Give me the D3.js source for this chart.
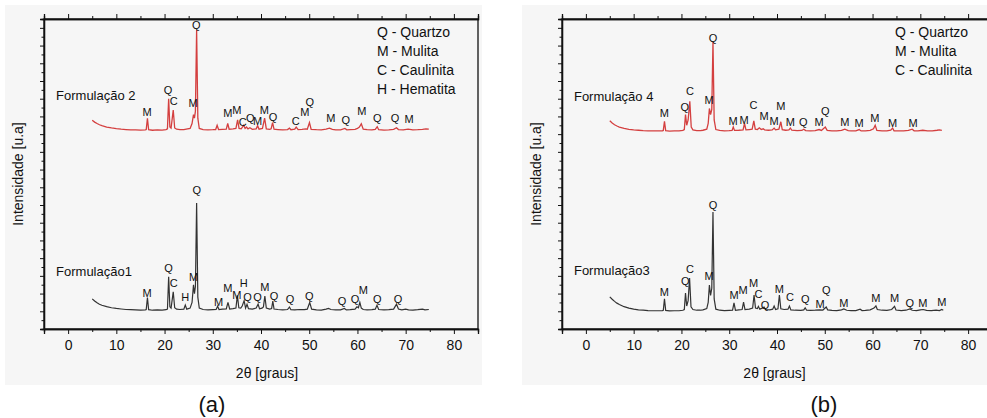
<!DOCTYPE html>
<html>
<head>
<meta charset="utf-8">
<script src="https://d3js.org/d3.v7.min.js"></script>
<style>
  body { margin: 0; background: #fff; }
  svg { display: block; font-family: Arial, "Liberation Sans", sans-serif; }
</style>
</head>
<body>
<svg id="chart" width="987" height="418"></svg>
<script>
// ---- data ----
// 2theta ticks
const xMajorTicks = [0, 10, 20, 30, 40, 50, 60, 70, 80];
const xMinorTicks = [-5, 5, 15, 25, 35, 45, 55, 65, 75, 85];

// Formulacao 1 (panel a, black)
const f1Angle = [5, 5.5, 6, 6.5, 7, 8, 9, 10, 11, 12, 13, 14, 15, 16, 16.2, 16.45, 16.7, 17.5, 18.5, 19.5,
  20.3, 20.6, 20.85, 21.1, 21.35, 21.8, 22.1, 22.5, 23.2, 24, 24.3, 24.6, 25.3, 25.7, 26, 26.2, 26.4, 26.65, 26.9, 27.2,
  28, 29, 30, 30.7, 31, 31.3, 32, 32.8, 33.15, 33.5, 34.2, 34.8, 35.1, 35.4, 35.8, 36.1, 36.5, 36.8, 37.1, 37.4,
  38.2, 39, 39.4, 39.7, 40.2, 40.5, 40.8, 41.1, 41.8, 42.2, 42.45, 42.7, 43.5, 44.5, 45.5, 45.9, 46.2, 47, 48, 49,
  49.6, 50.1, 50.5, 51.5, 52.5, 53.5, 54, 54.5, 55.5, 56.5, 57.3, 57.7, 58.5, 59.5, 59.9, 60.2, 60.5, 60.8, 61.2, 62,
  63, 63.7, 64.05, 64.4, 65.5, 66.5, 67.5, 68.1, 68.5, 69.2, 70, 70.6, 71.5, 72.5, 73.5, 74, 74.8];
const f1Int = [170, 158, 148, 140, 134, 126, 120, 116, 113, 110, 109, 108, 107, 108, 110, 178, 109, 106, 108, 107,
  109, 112, 295, 125, 118, 210, 120, 112, 110, 112, 135, 112, 118, 150, 250, 200, 240, 711, 180, 118,
  110, 108, 109, 110, 128, 110, 112, 113, 150, 113, 115, 118, 190, 120, 118, 130, 160, 118, 140, 115,
  112, 118, 140, 114, 118, 125, 186, 118, 112, 115, 158, 113, 110, 108, 110, 124, 109, 108, 110, 109,
  112, 150, 112, 108, 107, 112, 116, 110, 108, 108, 116, 108, 109, 112, 125, 120, 150, 118, 110, 108,
  109, 112, 134, 110, 108, 109, 112, 140, 113, 108, 112, 108, 107, 109, 112, 108, 110];

// Formulacao 2 (panel a, red)
const f2Angle = [5, 5.5, 6, 6.5, 7, 8, 9, 10, 11, 12, 13, 14, 15, 16, 16.2, 16.45, 16.7, 17.5, 18.5, 19.5,
  20.3, 20.6, 20.85, 21.1, 21.35, 21.8, 22.1, 22.5, 23.2, 24, 24.5, 25.3, 25.7, 26, 26.2, 26.4, 26.65, 26.9, 27.2,
  28, 29, 30, 30.6, 30.9, 31.2, 32, 32.8, 33.1, 33.4, 34.2, 34.8, 35.15, 35.45, 35.9, 36.4, 36.7, 37, 37.3, 37.7,
  38.2, 39, 39.3, 39.6, 40.3, 40.75, 41.1, 41.8, 42.1, 42.4, 42.7, 43.5, 44.5, 45.5, 45.9, 46.2, 47, 47.3, 47.7,
  48.5, 49.3, 49.6, 50.05, 50.4, 51.5, 52.5, 53.5, 54.2, 54.8, 55.5, 56.5, 57.4, 57.8, 58.5, 59.5, 60, 60.4, 60.8,
  61.2, 62, 63, 63.7, 64.1, 64.4, 65.5, 66.5, 67.5, 68.1, 68.5, 69.5, 70.5, 71.5, 72.5, 73.5, 74.2, 74.8];
const f2Int = [178, 168, 160, 153, 148, 140, 135, 131, 128, 126, 124, 124, 123, 124, 126, 190, 125, 122, 124, 123,
  126, 130, 300, 140, 134, 236, 135, 128, 126, 125, 128, 132, 160, 210, 190, 230, 688, 190, 132,
  126, 124, 125, 126, 150, 126, 127, 128, 160, 128, 130, 132, 180, 132, 130, 150, 132, 140, 130, 136,
  127, 130, 148, 128, 132, 190, 130, 127, 130, 165, 128, 126, 124, 126, 134, 125, 128, 140, 126,
  127, 130, 128, 165, 127, 125, 124, 128, 134, 127, 124, 124, 132, 124, 125, 127, 132, 140, 158,
  128, 125, 124, 127, 142, 125, 123, 124, 127, 136, 126, 124, 128, 124, 125, 127, 130, 128];

// Formulacao 3 (panel b, black)
const f3Angle = [5, 5.5, 6, 6.5, 7, 8, 9, 10, 11, 12, 13, 14, 15, 16, 16.2, 16.45, 16.7, 17.5, 18.5, 19.5,
  20.3, 20.6, 20.85, 21.1, 21.4, 21.7, 22, 22.4, 23.2, 24, 24.5, 25.3, 25.6, 25.85, 26.1, 26.35, 26.6, 26.85, 27.2,
  28, 29, 30, 30.7, 31, 31.3, 32, 32.7, 33, 33.3, 34.2, 34.9, 35.2, 35.5, 35.9, 36.1, 36.4, 36.9, 37.3, 37.6,
  38.5, 39.1, 39.4, 39.7, 40.2, 40.5, 40.8, 41.5, 42.3, 42.6, 42.9, 43.8, 45, 45.6, 45.9, 46.2, 47, 48, 49,
  49.6, 50.3, 50.6, 51.5, 52.5, 53.5, 54, 54.6, 55.5, 56.5, 57.4, 57.8, 58.5, 59.5, 60.3, 60.7, 61, 62,
  63, 64, 64.6, 64.9, 66, 67, 67.8, 68.3, 69.2, 70, 70.6, 71.3, 72.3, 73.3, 74, 74.5, 74.8];
const f3Int = [181, 168, 156, 146, 138, 126, 118, 112, 108, 106, 104, 103, 103, 104, 106, 170, 105, 102, 103, 103,
  106, 110, 203, 130, 160, 288, 125, 110, 106, 106, 108, 115, 150, 248, 190, 230, 660, 170, 112,
  106, 104, 105, 106, 147, 106, 108, 110, 152, 110, 112, 118, 192, 118, 115, 128, 112, 118, 124, 110,
  108, 112, 130, 110, 114, 192, 114, 110, 112, 130, 108, 106, 105, 108, 119, 106, 105, 106, 108,
  107, 124, 108, 105, 104, 108, 113, 106, 104, 104, 112, 104, 105, 108, 118, 130, 110, 106,
  105, 110, 128, 107, 104, 106, 113, 106, 104, 108, 110, 105, 104, 106, 104, 110, 106];

// Formulacao 4 (panel b, red)
const f4Angle = [5, 5.5, 6, 6.5, 7, 8, 9, 10, 11, 12, 13, 14, 15, 16, 16.2, 16.45, 16.7, 17.5, 18.5, 19.5,
  20.3, 20.6, 20.85, 21.1, 21.4, 21.75, 22.05, 22.4, 23.2, 24, 24.5, 25.3, 25.6, 25.85, 26.1, 26.35, 26.6, 26.85, 27.2,
  28, 29, 30, 30.6, 30.85, 31.1, 32, 32.9, 33.2, 33.5, 34.2, 34.8, 35.15, 35.45, 35.9, 36.3, 36.7, 37.1, 37.4,
  38.2, 39, 39.4, 39.7, 40.4, 40.8, 41.1, 41.8, 42.5, 42.8, 43.1, 44.2, 45.2, 45.6, 46, 47, 48, 48.8, 49.3,
  50.1, 50.5, 51.5, 52.5, 53.5, 54.2, 54.9, 55.5, 56.5, 57.2, 57.6, 58.5, 59.5, 60.2, 60.55, 60.9, 62,
  63, 63.8, 64.2, 64.5, 65.5, 66.5, 67.5, 68.3, 68.7, 69.5, 70.5, 71.5, 72.5, 73.5, 74, 74.5];
const f4Int = [175, 163, 153, 146, 140, 132, 127, 124, 122, 120, 119, 118, 118, 119, 121, 172, 120, 117, 118, 118,
  121, 126, 210, 150, 180, 285, 140, 124, 120, 120, 122, 128, 160, 245, 210, 240, 620, 180, 126,
  121, 119, 120, 121, 140, 121, 122, 124, 160, 124, 126, 128, 175, 128, 126, 136, 126, 130, 124,
  122, 124, 134, 124, 128, 170, 125, 122, 124, 134, 122, 120, 121, 128, 120, 119, 120, 126, 121,
  140, 121, 119, 118, 121, 128, 120, 118, 118, 126, 118, 119, 121, 130, 150, 121, 119,
  118, 122, 134, 119, 118, 119, 121, 128, 119, 118, 122, 118, 119, 122, 124, 121];

// phase labels: angle, intensity level of the letter centre, letter
const f1Labels = [[16.4, 203, "M"], [20.8, 344, "Q"], [21.9, 260, "C"], [24.3, 181, "H"], [26.0, 294, "M"],
  [26.7, 785, "Q"], [31.2, 152, "M"], [33.1, 231, "M"], [35.0, 192, "M"], [36.4, 260, "H"], [37.2, 181, "Q"],
  [39.3, 181, "Q"], [40.8, 237, "M"], [42.7, 186, "Q"], [46.0, 169, "Q"], [50.0, 186, "Q"], [56.8, 158, "Q"],
  [59.5, 169, "Q"], [61.2, 220, "M"], [64.1, 169, "Q"], [68.4, 169, "Q"]];
const f2Labels = [[16.4, 225, "M"], [20.7, 349, "Q"], [21.9, 287, "C"], [25.9, 276, "M"], [26.6, 716, "Q"],
  [33.1, 219, "M"], [35.0, 236, "M"], [36.2, 165, "C"], [37.8, 192, "Q"], [39.3, 174, "M"], [40.7, 236, "M"],
  [42.5, 197, "Q"], [47.2, 174, "C"], [49.1, 225, "M"], [50.1, 281, "Q"], [54.5, 191, "M"], [57.6, 180, "Q"],
  [60.9, 231, "M"], [64.1, 191, "Q"], [67.8, 191, "Q"], [70.7, 185, "M"]];
const f3Labels = [[16.4, 209, "M"], [20.8, 271, "Q"], [21.8, 339, "C"], [25.8, 299, "M"], [26.6, 700, "Q"],
  [31.0, 192, "M"], [32.9, 220, "M"], [35.1, 260, "M"], [36.1, 195, "C"], [37.5, 135, "Q"], [40.5, 226, "M"],
  [42.7, 181, "C"], [45.9, 169, "Q"], [49.0, 141, "M"], [50.3, 220, "Q"], [54.0, 147, "M"], [60.7, 175, "M"],
  [64.6, 175, "M"], [67.8, 147, "Q"], [70.5, 147, "M"], [74.5, 152, "M"]];
const f4Labels = [[16.4, 219, "M"], [20.7, 253, "Q"], [21.8, 343, "C"], [25.8, 293, "M"], [26.6, 643, "Q"],
  [30.8, 174, "M"], [33.1, 180, "M"], [35.1, 264, "C"], [37.3, 202, "M"], [39.4, 174, "M"], [40.8, 259, "M"],
  [42.8, 169, "M"], [45.5, 169, "Q"], [48.8, 169, "M"], [50.1, 231, "Q"], [54.2, 169, "M"], [57.2, 163, "M"],
  [60.5, 191, "M"], [64.2, 163, "M"], [68.5, 163, "M"]];

const legendA = ["Q - Quartzo", "M - Mulita", "C - Caulinita", "H - Hematita"];
const legendB = ["Q - Quartzo", "M - Mulita", "C - Caulinita"];

// ---- drawing ----
const svg = d3.select("#chart");
const plotTop = 19, plotBottom = 329;
const redOffset = 1000;   // vertical stacking of the upper pattern

function zip(a, b) { return a.map((v, i) => [v, b[i]]); }

function drawPanel(p) {
  const g = svg.append("g");

  g.append("rect")
    .attr("x", p.bg[0]).attr("y", 5)
    .attr("width", p.bg[1] - p.bg[0]).attr("height", 380)
    .attr("fill", "#f6f6f6");

  const x = d3.scaleLinear().domain([-5, 85]).range([p.left, p.right]);
  const y = d3.scaleLinear().domain([0, 1750]).range([plotBottom, plotTop]);

  // frame
  g.append("rect")
    .attr("x", p.left).attr("y", plotTop)
    .attr("width", p.right - p.left).attr("height", plotBottom - plotTop)
    .attr("fill", "none").attr("stroke", "#111").attr("stroke-width", 1.3);

  // bottom axis
  const bx = g.append("g").attr("transform", `translate(0,${plotBottom})`);
  bx.call(d3.axisBottom(x).tickValues(xMajorTicks).tickSize(5).tickPadding(6).tickFormat(d3.format("d")));
  bx.append("g").call(d3.axisBottom(x).tickValues(xMinorTicks).tickSize(3).tickFormat(""));
  // top axis
  const tx = g.append("g").attr("transform", `translate(0,${plotTop})`);
  tx.call(d3.axisTop(x).tickValues(xMajorTicks).tickSize(5).tickFormat(""));
  tx.append("g").call(d3.axisTop(x).tickValues(xMinorTicks).tickSize(3).tickFormat(""));
  // left axis
  const ly = g.append("g").attr("transform", `translate(${p.left},0)`);
  ly.call(d3.axisLeft(y).tickValues(d3.range(100, 1750, 100)).tickSize(4).tickFormat(""));
  ly.append("g").call(d3.axisLeft(y).tickValues(d3.range(50, 1750, 100)).tickSize(2.5).tickFormat(""));

  g.selectAll(".domain").attr("stroke", "#111").attr("stroke-width", 1.3);
  g.selectAll(".tick line").attr("stroke", "#111");
  bx.selectAll("text").attr("font-size", 14).attr("fill", "#111")
    .attr("font-family", "Arial, 'Liberation Sans', sans-serif");

  const line = d3.line().x(d => x(d[0]));

  // lower (black) pattern
  g.append("path")
    .datum(zip(p.lowAngle, p.lowInt))
    .attr("fill", "none").attr("stroke", "#333").attr("stroke-width", 1.2)
    .attr("d", line.y(d => y(d[1])));
  // upper (red) pattern, stacked
  g.append("path")
    .datum(zip(p.upAngle, p.upInt))
    .attr("fill", "none").attr("stroke", "#d43f3f").attr("stroke-width", 1.3)
    .attr("d", line.y(d => y(d[1] + redOffset)));

  const lbl = (arr, off) => g.append("g").selectAll("text").data(arr).join("text")
    .attr("x", d => x(d[0])).attr("y", d => y(d[1] + off))
    .attr("dy", "0.35em").attr("text-anchor", "middle")
    .attr("font-size", 11).attr("fill", "#111").text(d => d[2]);
  lbl(p.lowLabels, 0);
  lbl(p.upLabels, redOffset);

  // pattern names
  g.append("text").attr("x", x(p.nameAt)).attr("y", y(p.upName + redOffset))
    .attr("dy", "0.35em").attr("font-size", 13).attr("fill", "#111").text(p.upText);
  g.append("text").attr("x", x(p.nameAt)).attr("y", y(p.lowName))
    .attr("dy", "0.35em").attr("font-size", 13).attr("fill", "#111").text(p.lowText);

  // legend
  g.append("g").selectAll("text").data(p.legend).join("text")
    .attr("x", p.legX).attr("y", (d, i) => 37 + i * 19)
    .attr("font-size", 14).attr("fill", "#111").text(d => d);

  // axis titles
  g.append("text")
    .attr("x", (p.left + Math.min(p.right, 987)) / 2 + p.xTitleShift).attr("y", 378)
    .attr("text-anchor", "middle").attr("font-size", 14).attr("fill", "#111")
    .text("2θ [graus]");
  g.append("text")
    .attr("transform", `translate(${p.left - 26},${(plotTop + plotBottom) / 2}) rotate(-90)`)
    .attr("dy", "0.35em").attr("text-anchor", "middle").attr("font-size", 14).attr("fill", "#111")
    .text("Intensidade [u.a]");

  // panel letter
  g.append("text").attr("x", p.tagX).attr("y", 412)
    .attr("text-anchor", "middle").attr("font-size", 22).attr("fill", "#111")
    .text(p.tag);
}

drawPanel({
  bg: [5, 482], left: 44, right: 478,
  lowAngle: f1Angle, lowInt: f1Int, upAngle: f2Angle, upInt: f2Int,
  lowLabels: f1Labels, upLabels: f2Labels,
  nameAt: -2.5, upName: 321, lowName: 327, upText: "Formulação 2", lowText: "Formulação1",
  legend: legendA, legX: 377, xTitleShift: 6, tag: "(a)", tagX: 212
});
drawPanel({
  bg: [522, 987], left: 562, right: 992,
  lowAngle: f3Angle, lowInt: f3Int, upAngle: f4Angle, upInt: f4Int,
  lowLabels: f3Labels, upLabels: f4Labels,
  nameAt: -2.5, upName: 310, lowName: 333, upText: "Formulação 4", lowText: "Formulação3",
  legend: legendB, legX: 895, xTitleShift: 0, tag: "(b)", tagX: 824
});
</script>
</body>
</html>
